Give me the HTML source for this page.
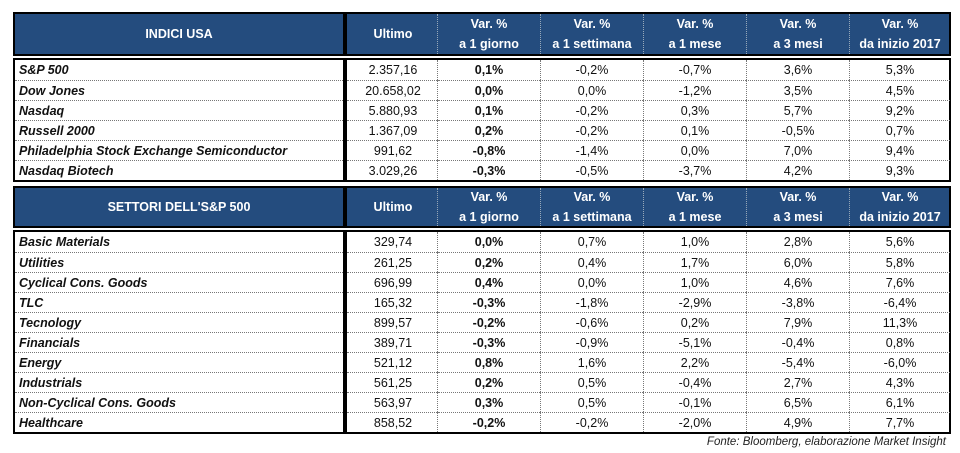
<!DOCTYPE html>
<html><head><meta charset="utf-8">
<style>
body{margin:0;width:960px;height:453px;background:#fff;position:relative;overflow:hidden;font-family:"Liberation Sans",sans-serif;}
.box{position:absolute;border:2px solid #000;box-sizing:border-box;}
.hd{background:#244c7e;color:#fff;font-weight:bold;font-size:12px;}
.c{position:absolute;box-sizing:border-box;display:flex;align-items:center;justify-content:center;text-align:center;font-size:12.5px;color:#111;}
.hc{flex-direction:column;line-height:20px;color:#fff;font-weight:bold;font-size:12.5px}
.name{justify-content:flex-start;padding-left:4px;font-style:italic;font-weight:bold}
.vd{border-left:1px dotted #777;}
.hd .vd{border-left:1px dotted #9ab;}
.rd{border-top:1px dotted #777;}
</style></head>
<body>
<div id="root"></div>
<div style="position:absolute;right:14px;top:436px;font-size:11.5px;font-style:italic;color:#222">Fonte: Bloomberg, elaborazione Market Insight</div>
<script>
const usaNames=["S&P 500","Dow Jones","Nasdaq","Russell 2000","Philadelphia Stock Exchange Semiconductor","Nasdaq Biotech"];
const usaLast=["2.357,16","20.658,02","5.880,93","1.367,09","991,62","3.029,26"];
const usaVals=[["0,1%","-0,2%","-0,7%","3,6%","5,3%"],["0,0%","0,0%","-1,2%","3,5%","4,5%"],["0,1%","-0,2%","0,3%","5,7%","9,2%"],["0,2%","-0,2%","0,1%","-0,5%","0,7%"],["-0,8%","-1,4%","0,0%","7,0%","9,4%"],["-0,3%","-0,5%","-3,7%","4,2%","9,3%"]];
const secNames=["Basic Materials","Utilities","Cyclical Cons. Goods","TLC","Tecnology","Financials","Energy","Industrials","Non-Cyclical Cons. Goods","Healthcare"];
const secLast=["329,74","261,25","696,99","165,32","899,57","389,71","521,12","561,25","563,97","858,52"];
const secVals=[["0,0%","0,7%","1,0%","2,8%","5,6%"],["0,2%","0,4%","1,7%","6,0%","5,8%"],["0,4%","0,0%","1,0%","4,6%","7,6%"],["-0,3%","-1,8%","-2,9%","-3,8%","-6,4%"],["-0,2%","-0,6%","0,2%","7,9%","11,3%"],["-0,3%","-0,9%","-5,1%","-0,4%","0,8%"],["0,8%","1,6%","2,2%","-5,4%","-6,0%"],["0,2%","0,5%","-0,4%","2,7%","4,3%"],["0,3%","0,5%","-0,1%","6,5%","6,1%"],["-0,2%","-0,2%","-2,0%","4,9%","7,7%"]];
const hdr=[["Var. %","a 1 giorno"],["Var. %","a 1 settimana"],["Var. %","a 1 mese"],["Var. %","a 3 mesi"],["Var. %","da inizio 2017"]];
const xs=[437,540,643,746,849,950];
const root=document.getElementById('root');
function mk(cls,l,t,w,h,txt,parent){const d=document.createElement('div');d.className=cls;d.style.left=l+'px';d.style.top=t+'px';d.style.width=w+'px';d.style.height=h+'px';if(txt!=null)d.innerHTML=txt;(parent||root).appendChild(d);return d;}
function section(title,y0,y1,names,last,vals,key){
  const lh=mk('box hd',13,y0,332,y1-y0);
  
  
  const t=mk('c hc',0,0,328,y1-y0-4,title,lh);
  
  
  const rh=mk('box hd',345,y0,606,y1-y0);
  
  
  const u=mk('c hc',0,0,92,y1-y0-4,'Ultimo',rh);
  
  
  hdr.forEach((h,i)=>{const c=mk('c hc vd',xs[i]-347,0,xs[i+1]-xs[i],y1-y0-4,h[0]+'<br>'+h[1],rh);
    
    });
  const yb=y1+2,rH=20,H=names.length*rH+4;
  const lb=mk('box',13,yb,332,H);
  
  
  const rb=mk('box',345,yb,606,H);
  
  
  names.forEach((n,r)=>{const top=r*rH,rc=r?' rd':'';
    const nc=mk('c name'+rc,0,top,328,rH,n.replace('&','&amp;'),lb);
    
    
    const lc=mk('c'+rc,0,top,92,rH,last[r],rb);
    
    
    vals[r].forEach((v,i)=>{const vc=mk('c vd'+rc,xs[i]-347,top,xs[i+1]-xs[i],rH,v,rb);
      if(i==0)vc.style.fontWeight='bold';
      
      });
  });
}
section('INDICI USA',12,56,usaNames,usaLast,usaVals,'usa');
section("SETTORI DELL'S&amp;P 500",186,228,secNames,secLast,secVals,'sectors');
</script>
</body></html>
